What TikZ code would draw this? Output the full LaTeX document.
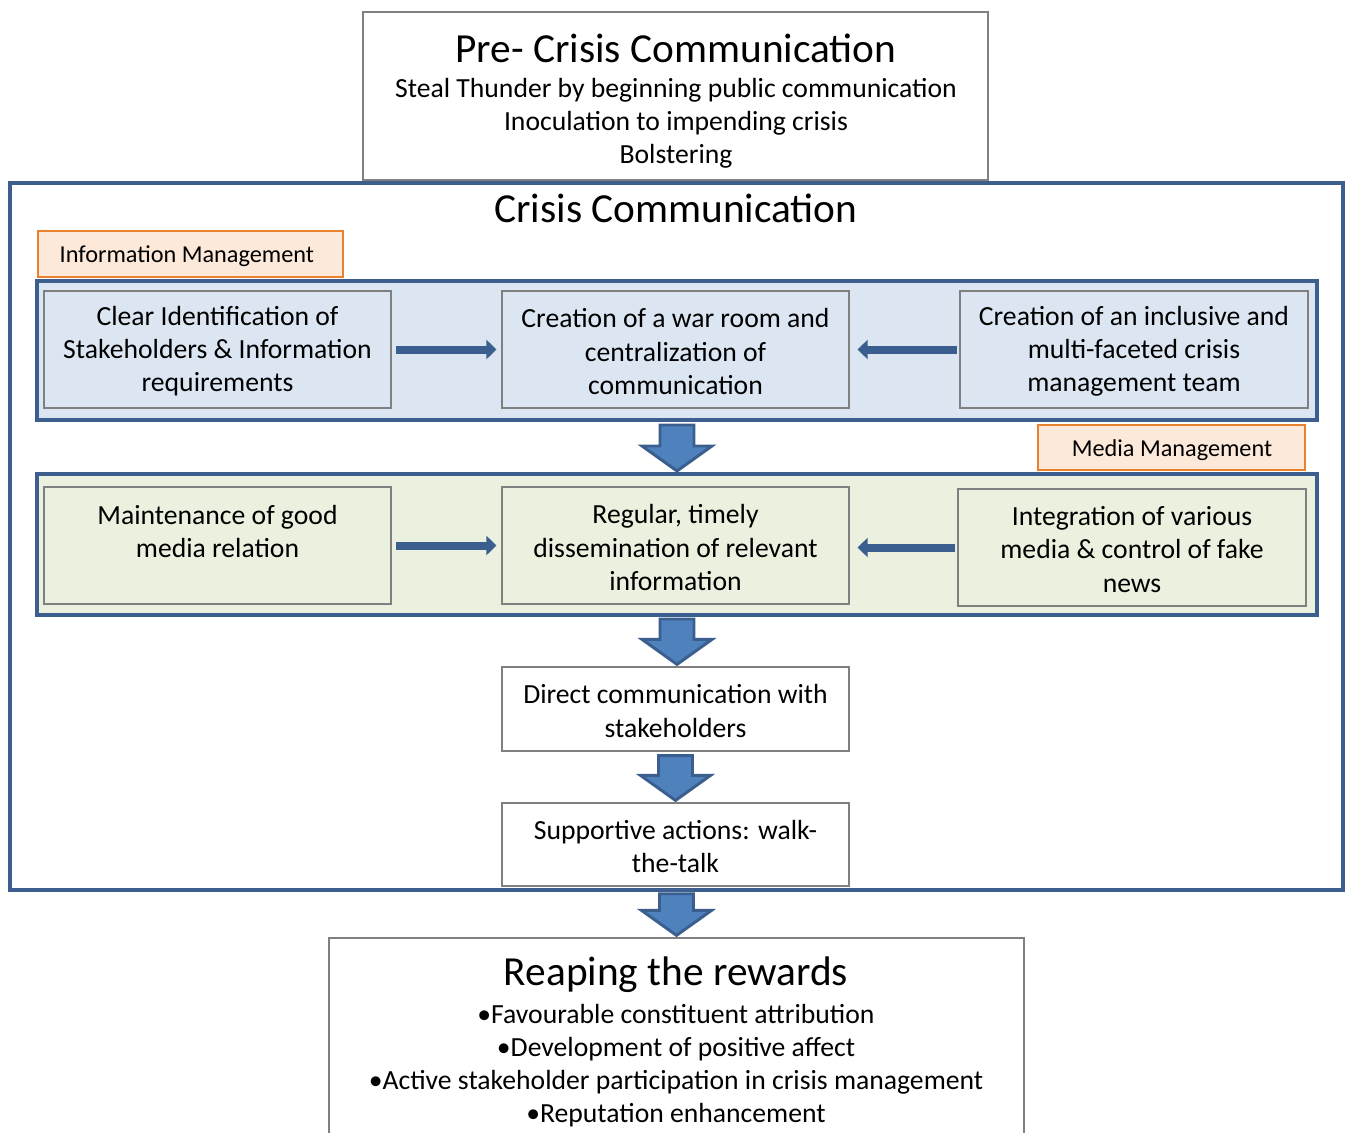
\documentclass[tikz,border=0pt]{standalone}
\usepackage{fontspec}
\setmainfont{Carlito}
\usetikzlibrary{arrows.meta}
\usetikzlibrary{calc}
\usetikzlibrary{fit}

\definecolor{frameblue}{HTML}{3C5F8F}
\definecolor{infofill}{HTML}{DCE6F2}
\definecolor{mediafill}{HTML}{EBF1DE}
\definecolor{tagfill}{HTML}{FDE9D9}
\definecolor{tagline}{HTML}{E9822E}
\definecolor{fatfill}{HTML}{4F81BD}
\definecolor{fatline}{HTML}{3A5F8E}
\definecolor{boxline}{HTML}{808080}

\newcommand{\bodysize}{\fontsize{20.75}{24.8}\selectfont}
\newcommand{\headsize}{\fontsize{31}{37}\selectfont}
\newcommand{\tagsize}{\fontsize{18.2}{22}\selectfont}

\newcommand{\fatarrow}[2]{%
  \filldraw [fatarr] let \p1=(#1), \p2=(#2) in
    (\x1-12.75pt,\y1) -- (\x1+12.75pt,\y1) -- (\x1+12.75pt,\y2+18.75pt)
    -- (\x1+26.25pt,\y2+18.75pt) -- (\x1,\y2) -- (\x1-26.25pt,\y2+18.75pt)
    -- (\x1-12.75pt,\y2+18.75pt) -- cycle;}

\begin{document}
\begin{tikzpicture}[x=0.75pt,y=-0.75pt,
    box/.style={draw=boxline,line width=0.9pt,inner sep=0pt},
    boxtext/.style={font=\bodysize,align=center,yshift=-1.5pt},
    band/.style={draw=frameblue,line width=3pt,inner sep=0pt},
    tag/.style={draw=tagline,fill=tagfill,line width=1.2pt,inner sep=0pt},
    thinarr/.style={draw=fatline,line width=6pt,-{Triangle[width=14.25pt,length=7.5pt]}},
    fatarr/.style={fill=fatfill,draw=fatline,line width=2.2pt}]

  \useasboundingbox (0,0) rectangle (1345,1132);

  % pre-crisis
  \node [box,fit={(363,12) (988,180)}] (pre) {};
  \node [font=\headsize] (pretitle) at (676,48) {Pre- Crisis Communication};
  \node [boxtext] (pretext) at (676,121)
    {Steal Thunder by beginning public communication\\Inoculation to impending crisis\\Bolstering};

  % crisis frame
  \node [band,line width=2.6pt,fit={(10,183) (1343,890)}] (crisis) {};
  \node [font=\headsize] (crisistitle) at (676,208) {Crisis Communication};

  % information management
  \node [tag,fit={(38,231) (343,277)}] (infotag) {};
  \node [font=\tagsize,anchor=west] (infotagtext) at (55,256) {Information Management};

  \node [band,fill=infofill,fit={(37,281) (1317,420)}] (infoband) {};
  \node [box,fill=infofill,fit={(44,291) (391,408)}] (clearid) {};
  \node [boxtext] (clearidtext) at (clearid)
    {Clear Identification of\\Stakeholders \& Information\\requirements};
  \node [box,fill=infofill,fit={(502,291) (849,408)}] (warroom) {};
  \node [boxtext] (warroomtext) at (warroom)
    {Creation of a war room and\\centralization of\\communication};
  \node [box,fill=infofill,fit={(960,291) (1308,408)}] (crisisteam) {};
  \node [boxtext] (crisisteamtext) at (crisisteam)
    {Creation of an inclusive and\\multi-faceted crisis\\management team};

  \draw [thinarr,shorten <=3pt,shorten >=3.75pt] (clearid) -- (warroom);
  \draw [thinarr,shorten <=1.5pt,shorten >=6pt] (crisisteam) -- (warroom);

  % media management
  \node [tag,fit={(1038,425) (1305,470)}] (mediatag) {};
  \node [font=\tagsize] (mediatagtext) at (1172,450) {Media Management};

  \node [band,fill=mediafill,fit={(37,474) (1317,615)}] (mediaband) {};
  \node [box,fill=mediafill,fit={(44,487) (391,604)}] (goodrel) {};
  \node [boxtext] (goodreltext) at (goodrel)
    {Maintenance of good\\media relation\\\mbox{}};
  \node [box,fill=mediafill,fit={(502,487) (849,604)}] (dissem) {};
  \node [boxtext] (dissemtext) at (dissem)
    {Regular, timely\\dissemination of relevant\\information};
  \node [box,fill=mediafill,fit={(958,489) (1306,606)}] (integr) {};
  \node [boxtext] (integrtext) at (integr)
    {Integration of various\\media \& control of fake\\news};

  \draw [thinarr,shorten <=3pt,shorten >=3.75pt] (goodrel) -- (goodrel -| dissem.west);
  \draw [thinarr,shorten <=1.5pt,shorten >=6pt] (integr.west) -- (integr.west -| dissem.east);

  % direct steps
  \node [box,fill=white,fit={(502,667) (849,751)}] (direct) {};
  \node [boxtext] (directtext) at (direct) {Direct communication with\\stakeholders};
  \node [box,fill=white,fit={(502,803) (849,886)}] (support) {};
  \node [boxtext] (supporttext) at (support) {Supportive actions: walk-\\the-talk};

  % rewards
  \node [box,fit={(329,938) (1024,1150)}] (reaping) {};
  \node [font=\headsize] (reapingtitle) at (676,975) {Reaping the rewards};
  \node [boxtext] (reapingtext) at (676,1064)
    {•Favourable constituent attribution\\•Development of positive affect\\
     •Active stakeholder participation in crisis management\\•Reputation enhancement};

  \fatarrow{$(infoband.south)+(0,3)$}{$(mediaband.north)+(0,-1)$}
  \fatarrow{$(mediaband.south)+(0,2)$}{$(direct.north)+(0,-2)$}
  \fatarrow{$(direct.south)+(0,4)$}{$(support.north)+(0,-2)$}
  \fatarrow{$(crisis.south)+(0,2)$}{$(reaping.north)+(0,-2)$}

\end{tikzpicture}
\end{document}
